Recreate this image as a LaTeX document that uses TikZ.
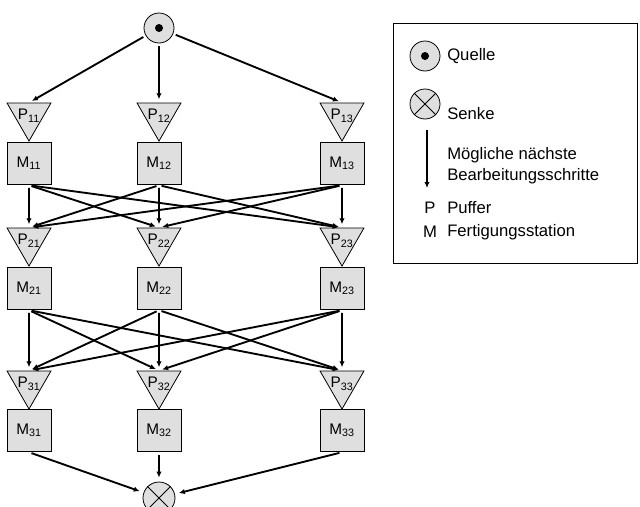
\documentclass[tikz,border=0pt]{standalone}
\usepackage{fontspec}
\setmainfont{Liberation Sans}
\usetikzlibrary{shapes.geometric,arrows.meta}

\begin{document}
\begin{tikzpicture}[x=0.75pt, y=-0.75pt, >={Latex[length=4.5pt,width=4pt]},
    puffer/.style={draw, fill=gray!25, line width=0.6pt, regular polygon, regular polygon sides=3, shape border rotate=180, minimum size=38pt, inner sep=-4pt, font=\fontsize{11.5}{13}\selectfont},
    station/.style={draw, fill=gray!25, line width=0.6pt, rectangle, minimum width=33pt, minimum height=32pt, inner sep=0pt, font=\fontsize{11.5}{13}\selectfont},
    ende/.style={draw, fill=gray!25, line width=0.6pt, circle, minimum size=22.5pt, inner sep=0pt},
    fluss/.style={->, line width=1.4pt, shorten <=2pt, shorten >=2.5pt},
    legtext/.style={anchor=west, inner sep=0pt, font=\fontsize{12.5}{15.5}\selectfont, align=left}]
            \useasboundingbox (0,0) rectangle (640,507);

            % Quelle
            \node[ende] (src) at (159,28) {};
            \fill (src) circle (3pt);

            % Stufe 1
            \node[puffer] (P11) at (29,115.7) {P\textsubscript{11}};
            \node[puffer] (P12) at (159,115.7) {P\textsubscript{12}};
            \node[puffer] (P13) at (342,115.7) {P\textsubscript{13}};
            \node[station] (M11) at (29,163.5) {M\textsubscript{11}};
            \node[station] (M12) at (159,163.5) {M\textsubscript{12}};
            \node[station] (M13) at (342,163.5) {M\textsubscript{13}};

            % Stufe 2
            \node[puffer] (P21) at (29,240.7) {P\textsubscript{21}};
            \node[puffer] (P22) at (159,240.7) {P\textsubscript{22}};
            \node[puffer] (P23) at (342,240.7) {P\textsubscript{23}};
            \node[station] (M21) at (29,288.5) {M\textsubscript{21}};
            \node[station] (M22) at (159,288.5) {M\textsubscript{22}};
            \node[station] (M23) at (342,288.5) {M\textsubscript{23}};

            % Stufe 3
            \node[puffer] (P31) at (29,383.7) {P\textsubscript{31}};
            \node[puffer] (P32) at (159,383.7) {P\textsubscript{32}};
            \node[puffer] (P33) at (342,383.7) {P\textsubscript{33}};
            \node[station] (M31) at (29,430.5) {M\textsubscript{31}};
            \node[station] (M32) at (159,430.5) {M\textsubscript{32}};
            \node[station] (M33) at (342,430.5) {M\textsubscript{33}};

            % Senke
            \node[ende, minimum size=24pt] (snk) at (159,498) {};
            \draw[line width=0.6pt] (snk.north east) -- (snk.south west) (snk.north west) -- (snk.south east);

            % Quelle -> Stufe 1
            \draw[fluss] (src) -- (P11.north);
            \draw[fluss] (src) -- (P12.north);
            \draw[fluss] (src) -- (P13.north);

            % Stufe 1 -> Stufe 2
            \draw[fluss] (M11.south) -- (P21.north);
            \draw[fluss] (M11.south) -- (P22.north);
            \draw[fluss] (M11.south) -- (P23.north);
            \draw[fluss] (M12.south) -- (P21.north);
            \draw[fluss] (M12.south) -- (P22.north);
            \draw[fluss] (M12.south) -- (P23.north);
            \draw[fluss] (M13.south) -- (P21.north);
            \draw[fluss] (M13.south) -- (P22.north);
            \draw[fluss] (M13.south) -- (P23.north);

            % Stufe 2 -> Stufe 3
            \draw[fluss] (M21.south) -- (P31.north);
            \draw[fluss] (M21.south) -- (P32.north);
            \draw[fluss] (M21.south) -- (P33.north);
            \draw[fluss] (M22.south) -- (P31.north);
            \draw[fluss] (M22.south) -- (P32.north);
            \draw[fluss] (M22.south) -- (P33.north);
            \draw[fluss] (M23.south) -- (P31.north);
            \draw[fluss] (M23.south) -- (P32.north);
            \draw[fluss] (M23.south) -- (P33.north);

            % Stufe 3 -> Senke
            \draw[fluss, shorten >=3pt] (M31.south) -- (snk);
            \draw[fluss, shorten >=3pt] (M32.south) -- (snk);
            \draw[fluss, shorten >=3pt] (M33.south) -- (snk);

            % Legende
            \draw[line width=0.6pt] (393,23) rectangle (637,263);
            \node[ende] (lq) at (425,56) {};
            \fill (lq) circle (3pt);
            \node[legtext] (tq) at (447,56) {Quelle};
            \node[ende] (ls) at (425,104) {};
            \draw[line width=0.6pt] (ls.north east) -- (ls.south west) (ls.north west) -- (ls.south east);
            \node[legtext] (ts) at (447,114) {Senke};
            \coordinate (la) at (427,130);
            \coordinate (lb) at (427,188);
            \draw[->, line width=0.9pt] (la) -- (lb);
            \node[legtext] (tm) at (447,166) {Mögliche nächste\\Bearbeitungsschritte};
            \node[font=\fontsize{12.5}{15.5}\selectfont, inner sep=0pt] (lp) at (430,208) {P};
            \node[legtext] (tp) at (447,208) {Puffer};
            \node[font=\fontsize{12.5}{15.5}\selectfont, inner sep=0pt] (lm) at (430,232) {M};
            \node[legtext] (tf) at (447,232) {Fertigungsstation};

        \end{tikzpicture}
\end{document}
